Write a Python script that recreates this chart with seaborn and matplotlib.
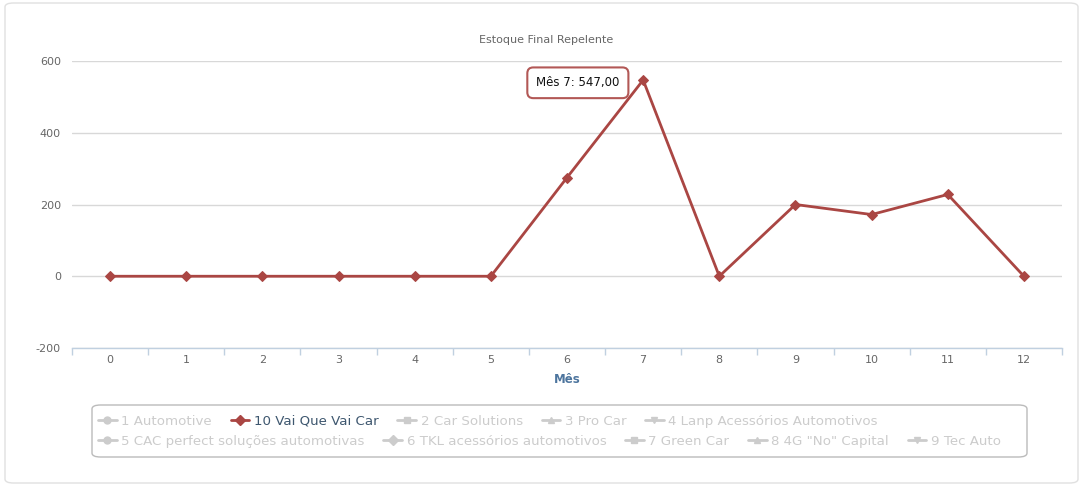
import matplotlib
matplotlib.use("Agg")
import matplotlib.pyplot as plt
import seaborn as sns
import pandas as pd
from matplotlib.lines import Line2D
from matplotlib.patches import FancyBboxPatch

# data
meses = [0, 1, 2, 3, 4, 5, 6, 7, 8, 9, 10, 11, 12]
estoque = [0, 0, 0, 0, 0, 0, 275, 547, 0, 200, 172, 228, 0]
serie_ativa = "10 Vai Que Vai Car"
legenda_linha1 = ["1 Automotive", "10 Vai Que Vai Car", "2 Car Solutions",
                  "3 Pro Car", "4 Lanp Acessórios Automotivos"]
legenda_linha2 = ["5 CAC perfect soluções automotivas", "6 TKL acessórios automotivos",
                  "7 Green Car", "8 4G \"No\" Capital", "9 Tec Auto"]
marcadores1 = ["o", "D", "s", "^", "v"]
marcadores2 = ["o", "D", "s", "^", "v"]
titulo = "Estoque Final Repelente"

COR = "#AA4643"
CINZA = "#CCCCCC"

sns.set_theme(style="white")
plt.rcParams["font.family"] = ["DejaVu Sans"]
plt.rcParams["axes.unicode_minus"] = False

df = pd.DataFrame({"Mês": meses, "valor": estoque})

fig = plt.figure(figsize=(10.81, 4.86), dpi=100)
ax = fig.add_axes([72 / 1081, 1 - 348 / 486, (1062 - 72) / 1081, (348 - 61) / 486])

# outer chart border
fig.patches.append(FancyBboxPatch((5 / 1081, 3 / 486), 1073 / 1081, 480 / 486,
                                  boxstyle="round,pad=0,rounding_size=0.008",
                                  transform=fig.transFigure, fill=False,
                                  edgecolor="#E0E0E0", linewidth=1))

sns.lineplot(data=df, x="Mês", y="valor", ax=ax, color=COR, linewidth=2,
             marker="D", markersize=5, markeredgecolor=COR)

ax.set_xlim(-0.5, 12.5)
ax.set_ylim(-200, 600)
ax.set_yticks([-200, 0, 200, 400, 600])
ax.set_xticks(meses)
ax.set_xticks([m - 0.5 for m in meses] + [12.5], minor=True)
ax.yaxis.grid(True, color="#D8D8D8", linewidth=1)
ax.set_axisbelow(True)
for s in ["top", "right", "left"]:
    ax.spines[s].set_visible(False)
ax.spines["bottom"].set_color("#C0D0E0")
ax.spines["bottom"].set_linewidth(1)
ax.tick_params(axis="x", which="major", length=0, pad=5, labelsize=8, labelcolor="#666666")
ax.tick_params(axis="x", which="minor", length=5, width=1, color="#C0D0E0", bottom=True)
ax.tick_params(axis="y", length=0, pad=8, labelsize=8, labelcolor="#666666")
ax.set_xlabel("Mês", fontsize=8.5, fontweight="bold", color="#4D759E", labelpad=6)
ax.set_ylabel("")

fig.text(546 / 1081, 1 - 40 / 486, titulo, ha="center", va="center",
         fontsize=8, color="#666666")

# tooltip
ax.annotate(f"Mês 7: {estoque[7]:,.2f}".replace(".", ","), xy=(7, estoque[7]),
            xytext=(-17, -2), textcoords="offset points", ha="right", va="center",
            fontsize=8.5, color="#111111",
            bbox=dict(boxstyle="round,pad=0.75,rounding_size=0.5", fc="white",
                      ec=COR, lw=1.5, alpha=0.9))

# legend box
fig.patches.append(FancyBboxPatch((92 / 1081, 1 - 457 / 486), 935 / 1081, 52 / 486,
                                  boxstyle="round,pad=0,rounding_size=0.008",
                                  transform=fig.transFigure, fill=False,
                                  edgecolor="#BBBBBB", linewidth=1))


def handles(nomes, marks):
    hs = []
    for n, m in zip(nomes, marks):
        c = COR if n == serie_ativa else CINZA
        hs.append(Line2D([], [], color=c, marker=m, markersize=5, linewidth=2,
                         markeredgecolor=c))
    return hs


for nomes, marks, ypix in [(legenda_linha1, marcadores1, 421), (legenda_linha2, marcadores2, 441)]:
    leg = fig.legend(handles(nomes, marks), nomes, loc="center left",
                     bbox_to_anchor=(98 / 1081, 1 - ypix / 486), ncol=5, frameon=False,
                     fontsize=9.6, handlelength=1.4, handletextpad=0.35, columnspacing=1.4,
                     borderpad=0, borderaxespad=0)
    for t in leg.get_texts():
        t.set_color("#3E576F" if t.get_text() == serie_ativa else CINZA)

fig.savefig("out.png", dpi=100, facecolor="white")
